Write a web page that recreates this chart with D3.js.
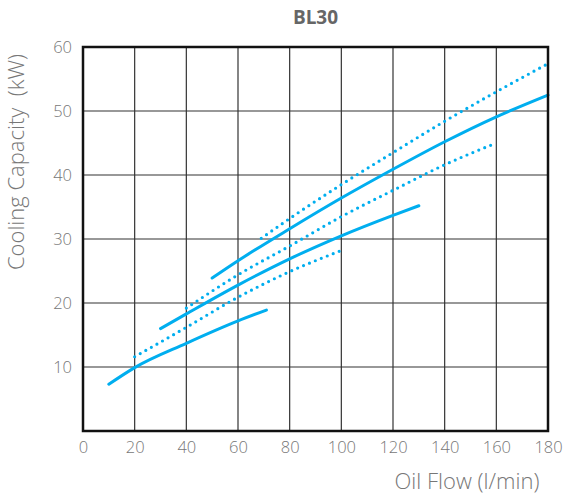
<!DOCTYPE html>
<html>
<head>
<meta charset="utf-8">
<script src="https://cdn.jsdelivr.net/npm/d3@7/dist/d3.min.js"></script>
<style>
  html, body { margin: 0; padding: 0; background: #fff; }
  svg text { font-family: "Open Sans", "Noto Sans", sans-serif; }
</style>
</head>
<body>
<svg id="chart" width="569" height="495"></svg>
<script>
// Cooling capacity (kW) against oil flow (l/min), BL30
const chartTitle = "BL30";
const xLabel = "Oil Flow (l/min)";
const yLabel = "Cooling Capacity  (kW)";
const xTicks = [0, 20, 40, 60, 80, 100, 120, 140, 160, 180];
const yTicks = [10, 20, 30, 40, 50, 60];
const yTickLabels = ["10", "20", "30", "40", "50", "60"];

// Solid performance curves: [flow, capacity]
const solidLow = [[10, 7.3], [20, 9.9], [40, 13.7], [60, 17.2], [71, 18.9]];
const solidMid = [[30, 16.0], [40, 18.3], [60, 22.8], [80, 26.9], [100, 30.5], [120, 33.7], [130, 35.2]];
const solidHigh = [[50, 23.9], [60, 26.6], [80, 31.6], [100, 36.4], [120, 40.9], [140, 45.2], [160, 49.1], [180, 52.5]];

// Dotted performance curves: [flow, capacity]
const dottedLow = [[20, 11.6], [40, 16.2], [60, 20.9], [80, 24.9], [100, 28.2]];
const dottedMid = [[40, 19.2], [60, 24.4], [80, 28.9], [100, 33.5], [120, 37.6], [140, 41.6], [160, 45.0]];
const dottedHigh = [[69, 30.1], [80, 33.2], [100, 38.5], [120, 43.5], [140, 48.4], [160, 53.0], [180, 57.4]];

const solidCurves = [solidLow, solidMid, solidHigh];
const dottedCurves = [dottedLow, dottedMid, dottedHigh];

const margin = { left: 83, right: 21, top: 47, bottom: 64 };
const W = 569, H = 495;
const svg = d3.select("#chart");

const x = d3.scaleLinear().domain([0, 180]).range([margin.left, W - margin.right]);
const y = d3.scaleLinear().domain([0, 60]).range([H - margin.bottom, margin.top]);

const lineColor = "#00aeef";
const textColor = "#777";

// Grid
const grid = svg.append("g");
grid.selectAll("line.v").data(xTicks.slice(1, -1)).join("line")
  .attr("x1", d => x(d)).attr("x2", d => x(d))
  .attr("y1", y(0)).attr("y2", y(60))
  .attr("stroke", "#333").attr("stroke-width", 1.2);
grid.selectAll("line.h").data(yTicks.slice(0, -1)).join("line")
  .attr("y1", d => y(d)).attr("y2", d => y(d))
  .attr("x1", x(0)).attr("x2", x(180))
  .attr("stroke", "#333").attr("stroke-width", 1.2);

// Axes (labels only; the frame is drawn separately)
const xAxis = svg.append("g")
  .attr("transform", `translate(0,${y(0)})`)
  .call(d3.axisBottom(x).tickValues(xTicks).tickSize(0).tickPadding(10));
const yAxis = svg.append("g")
  .attr("transform", `translate(${x(0)},0)`)
  .call(d3.axisLeft(y).tickValues(yTicks).tickFormat((d, i) => yTickLabels[i]).tickSize(0).tickPadding(11));
[xAxis, yAxis].forEach(a => {
  a.select(".domain").remove();
  a.selectAll("text")
    .attr("fill", textColor)
    .style("font-size", "16.5px")
    .style("font-weight", "350")
    .style("font-family", '"Open Sans", "Noto Sans", sans-serif');
});

// Curves
const line = d3.line().x(d => x(d[0])).y(d => y(d[1])).curve(d3.curveMonotoneX);
const curves = svg.append("g").attr("fill", "none").attr("stroke", lineColor);
curves.selectAll("path.solid").data(solidCurves).join("path")
  .attr("class", "solid")
  .attr("d", line)
  .attr("stroke-width", 3)
  .attr("stroke-linecap", "round");
curves.selectAll("path.dotted").data(dottedCurves).join("path")
  .attr("class", "dotted")
  .attr("d", line)
  .attr("stroke-width", 3.2)
  .attr("stroke-linecap", "round")
  .attr("stroke-dasharray", "0 6.4");

// Frame
svg.append("rect")
  .attr("x", x(0)).attr("y", y(60))
  .attr("width", x(180) - x(0)).attr("height", y(0) - y(60))
  .attr("fill", "none").attr("stroke", "#111").attr("stroke-width", 2.5);

// Titles
svg.append("text")
  .attr("x", (x(0) + x(180)) / 2).attr("y", 24)
  .attr("text-anchor", "middle")
  .attr("fill", "#666")
  .style("font-size", "19px").style("font-weight", "bold")
  .text(chartTitle);

svg.append("text")
  .attr("x", 467).attr("y", 489)
  .attr("text-anchor", "middle")
  .attr("fill", textColor)
  .style("font-size", "22px")
  .style("font-weight", "350")
  .text(xLabel);

svg.append("text")
  .attr("transform", "translate(24,162) rotate(-90)")
  .attr("text-anchor", "middle")
  .attr("fill", textColor)
  .style("font-size", "22px")
  .style("font-weight", "350")
  .style("white-space", "pre")
  .text(yLabel);
</script>
</body>
</html>
